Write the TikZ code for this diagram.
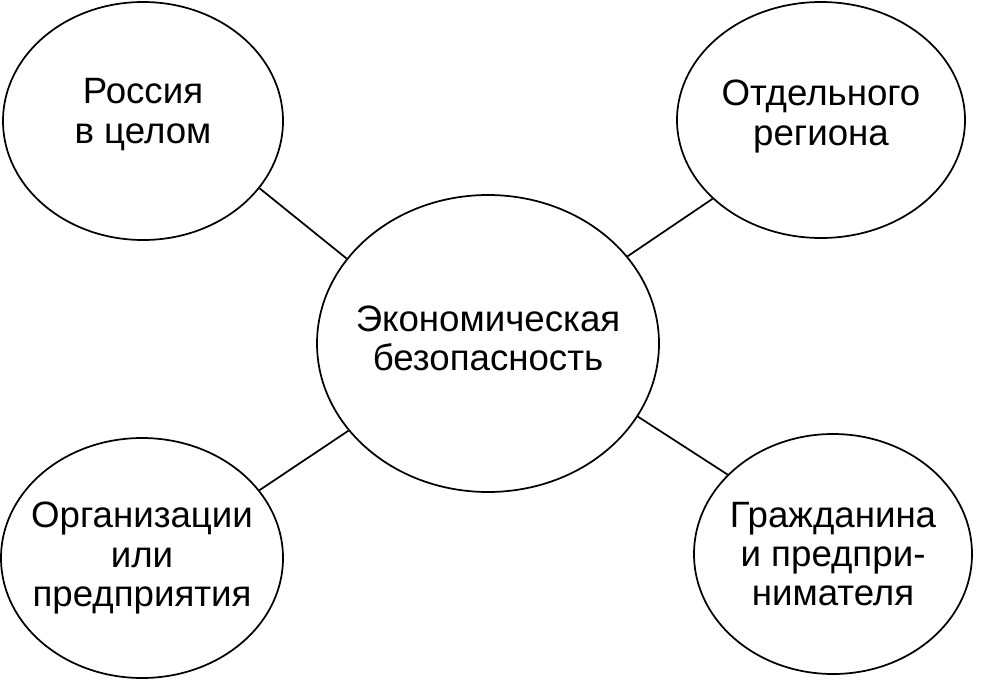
\documentclass[tikz,border=0pt]{standalone}
\usepackage{fontspec}
\setmainfont{Liberation Sans}
\usetikzlibrary{shapes.geometric, positioning}
\tikzset{
  zone/.style={draw, ellipse, line width=1.3pt, inner sep=-50pt, align=center,
    font=\fontsize{27.5}{29.5}\selectfont},
  link/.style={line width=1.3pt}
}

\begin{document}
\begin{tikzpicture}[x=0.75pt, y=-0.75pt]
\useasboundingbox (0,0) rectangle (984,682);
% Central ellipse
\node[zone, text depth=7.5pt, minimum width=256.5pt, minimum height=222.75pt] (econ) at (488,343.5) {Экономическая\\безопасность};

% Levels
\node[zone, text depth=15pt, minimum width=210pt, minimum height=178.5pt] (russia) at (143,121) {Россия\\в целом};
\node[zone, text depth=11pt, minimum width=216pt, minimum height=177pt] (region) at (821,120) {Отдельного\\региона};
\node[zone, minimum width=211.5pt, minimum height=180pt] (firm) at (142,558) {Организации\\или\\предприятия};
\node[zone, minimum width=208.5pt, minimum height=180pt] (citizen) at (833,554) {Гражданина\\и предпри-\\нимателя};

% Links
\draw[link] (russia.-30) -- (econ.149);
\draw[link] (region.216) -- (econ.32);
\draw[link] (firm.30) -- (econ.-148);
\draw[link] (citizen.143) -- (econ.-26);
\end{tikzpicture}
\end{document}
